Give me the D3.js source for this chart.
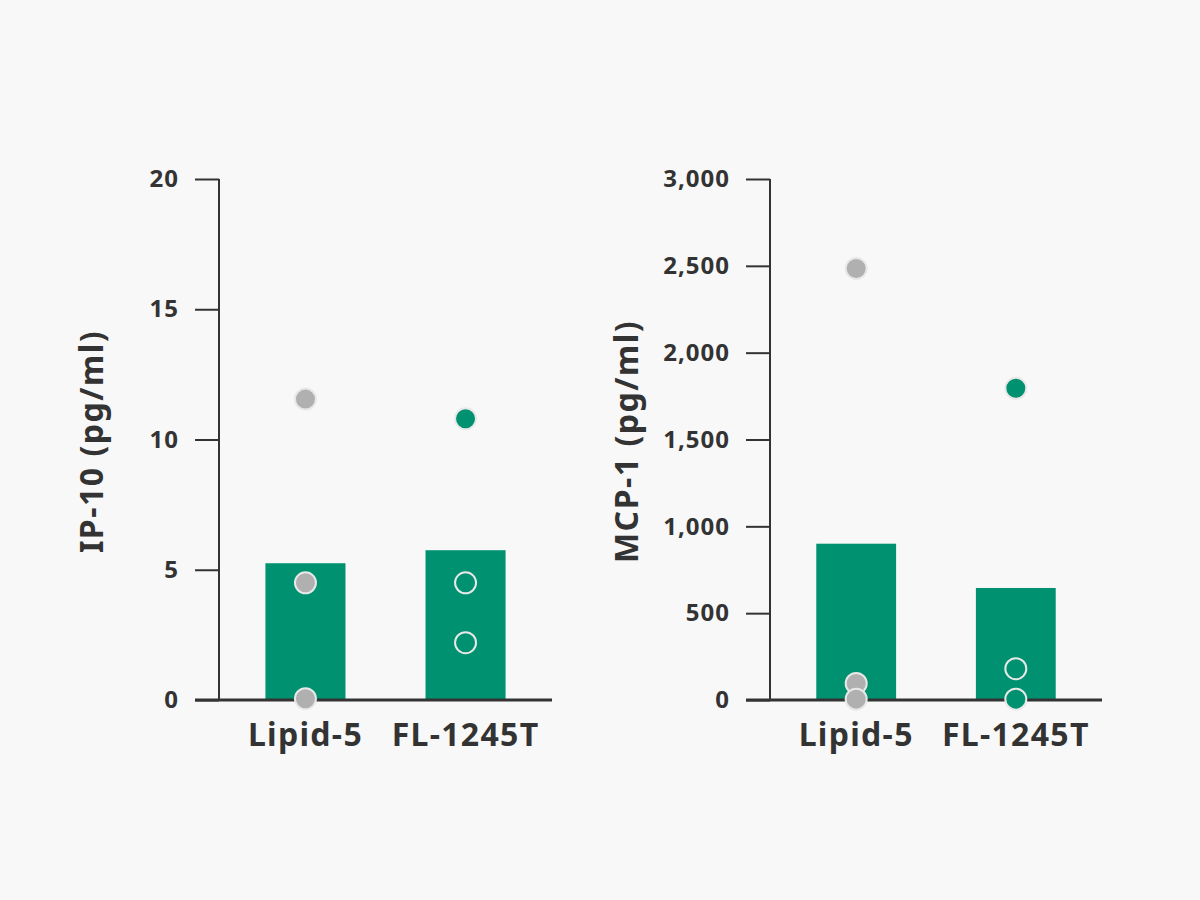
<!DOCTYPE html>
<html>
<head>
<meta charset="utf-8">
<script src="https://cdn.jsdelivr.net/npm/d3@7"></script>
<style>
  html, body { margin: 0; padding: 0; background: #f8f8f8; }
  svg { display: block; font-family: "Noto Sans", "Open Sans", sans-serif; }
</style>
</head>
<body>
<svg id="chart" width="1200" height="900"></svg>
<script>
// data
const groups = ['Lipid-5', 'FL-1245T'];

const ip10Means = [5.25, 5.75];
const ip10Lipid = [11.55, 4.5, 0.05];
const ip10FL = [10.8, 4.5, 2.2];

const mcp1Means = [900, 645];
const mcp1Lipid = [2485, 95, 5];
const mcp1FL = [1795, 180, 5];

const ip10Ticks = [0, 5, 10, 15, 20];
const mcp1Ticks = [0, 500, 1000, 1500, 2000, 2500, 3000];

const green = '#009270';
const grey = '#b0b0b0';
const ink = '#333333';

const svg = d3.select('#chart');
svg.append('rect').attr('width', 1200).attr('height', 900).attr('fill', '#f8f8f8');

function panel (opt) {
  const g = svg.append('g');
  const x = d3.scaleBand().domain(groups).range([opt.left, opt.right]).paddingInner(0.5).paddingOuter(0.29);
  const y = d3.scaleLinear().domain([0, opt.max]).range([700, 179]);

  // bars
  g.selectAll('rect.bar').data(opt.means).enter().append('rect')
    .attr('class', 'bar')
    .attr('x', (d, i) => x(groups[i]))
    .attr('width', x.bandwidth())
    .attr('y', d => y(d))
    .attr('height', d => y(0) - y(d))
    .attr('fill', green);

  // y axis
  const yAxis = g.append('g')
    .attr('transform', `translate(${opt.left},0)`)
    .call(d3.axisLeft(y).tickValues(opt.ticks).tickSize(24).tickPadding(16).tickFormat(d3.format(',')));
  yAxis.select('.domain').remove();
  yAxis.append('line').attr('x1', 0).attr('x2', 0).attr('y1', y(opt.max)).attr('y2', y(0))
    .attr('stroke', ink).attr('stroke-width', 2);
  yAxis.selectAll('.tick line').attr('stroke', ink).attr('stroke-width', 2);
  yAxis.selectAll('.tick text')
    .attr('fill', ink).attr('font-size', 24).attr('font-weight', 700)
    .attr('letter-spacing', 1)
    .attr('font-family', '"Noto Sans", sans-serif');

  // baseline
  g.append('line').attr('x1', opt.left - 24).attr('x2', opt.right).attr('y1', y(0)).attr('y2', y(0))
    .attr('stroke', ink).attr('stroke-width', 3);

  // category labels
  g.selectAll('text.cat').data(groups).enter().append('text')
    .attr('class', 'cat')
    .attr('x', d => x(d) + x.bandwidth() / 2)
    .attr('y', 746)
    .attr('text-anchor', 'middle')
    .attr('fill', ink).attr('font-size', 32).attr('font-weight', 700)
    .attr('letter-spacing', 1.3)
    .text(d => d);

  // y title
  g.append('text')
    .attr('transform', `translate(${opt.titleX},${(y(0) + y(opt.max)) / 2 + 2}) rotate(-90)`)
    .attr('text-anchor', 'middle')
    .attr('fill', ink).attr('font-size', 32).attr('font-weight', 700)
    .attr('letter-spacing', 1.5)
    .text(opt.title);

  // points
  const pts = [];
  opt.lipid.forEach(v => pts.push({ g: groups[0], v, fill: grey }));
  opt.fl.forEach(v => pts.push({ g: groups[1], v, fill: green }));
  g.selectAll('circle').data(pts).enter().append('circle')
    .attr('cx', d => x(d.g) + x.bandwidth() / 2)
    .attr('cy', d => y(d.v))
    .attr('r', 10.5)
    .attr('fill', d => d.fill)
    .attr('stroke', '#e8e8e8')
    .attr('stroke-width', 2);
}

panel({ left: 219, right: 552, max: 20, ticks: ip10Ticks, means: ip10Means, lipid: ip10Lipid, fl: ip10FL, title: 'IP-10 (pg/ml)', titleX: 103 });
panel({ left: 770, right: 1102, max: 3000, ticks: mcp1Ticks, means: mcp1Means, lipid: mcp1Lipid, fl: mcp1FL, title: 'MCP-1 (pg/ml)', titleX: 638 });
</script>
</body>
</html>
